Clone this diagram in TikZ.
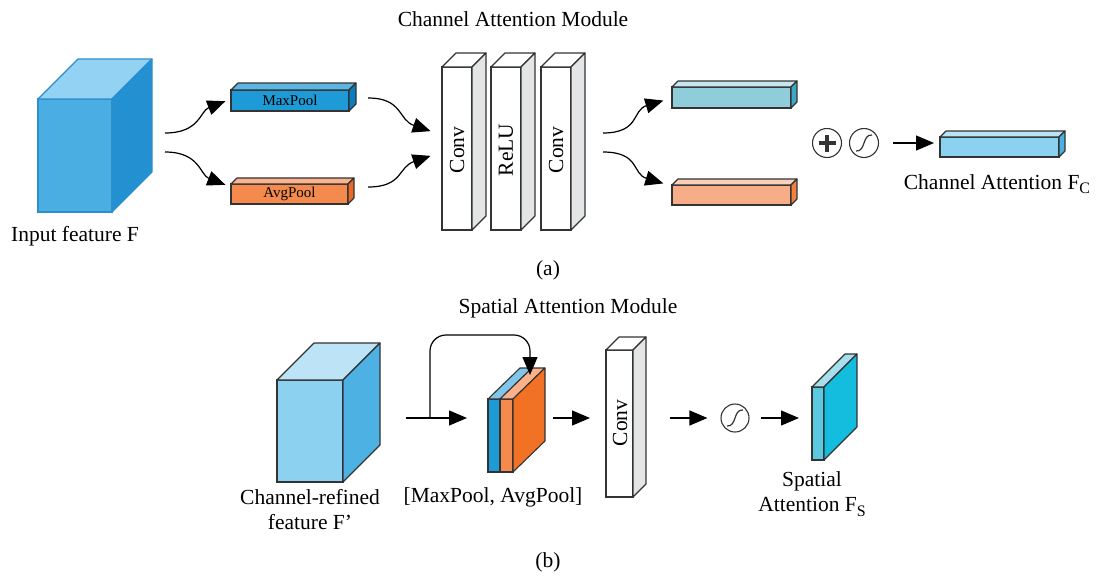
\documentclass[tikz,border=0pt]{standalone}
\usepackage{fontspec}
\setmainfont{Liberation Serif}
\usetikzlibrary{arrows.meta}

% colour palette
\definecolor{edgegray}{HTML}{333333}
\definecolor{cubeAfront}{HTML}{4BAEE3}
\definecolor{cubeAtop}{HTML}{93D2F2}
\definecolor{cubeAside}{HTML}{2391D1}
\definecolor{cubeAedge}{HTML}{2C8FCC}
\definecolor{maxfront}{HTML}{1E9AD6}
\definecolor{maxtop}{HTML}{5BB6E3}
\definecolor{maxside}{HTML}{0B7CC0}
\definecolor{avgfront}{HTML}{F58A4E}
\definecolor{avgtop}{HTML}{F9B38E}
\definecolor{avgside}{HTML}{E9692A}
\definecolor{convside}{HTML}{E4E5E7}
\definecolor{tealfront}{HTML}{8FCDDB}
\definecolor{tealtop}{HTML}{C6E7EF}
\definecolor{tealside}{HTML}{3FA7C6}
\definecolor{salmfront}{HTML}{F7AD88}
\definecolor{salmtop}{HTML}{FBD0B8}
\definecolor{salmside}{HTML}{F0813E}
\definecolor{fcfront}{HTML}{8BD1F0}
\definecolor{fctop}{HTML}{B9E3F6}
\definecolor{fcside}{HTML}{4BAFE1}
\definecolor{cubeBfront}{HTML}{8DD1F1}
\definecolor{cubeBtop}{HTML}{BDE4F6}
\definecolor{cubeBside}{HTML}{4EB1E4}
\definecolor{catbluetop}{HTML}{7FC6EA}
\definecolor{catorgtop}{HTML}{FBB28A}
\definecolor{catorgside}{HTML}{F17125}
\definecolor{fsfront}{HTML}{5CC9E1}
\definecolor{fstop}{HTML}{A7DFEC}
\definecolor{fsside}{HTML}{14BCDD}

% top and side faces of a block whose front face is node #1
\newcommand{\depthfaces}[5]{% #1 node, #2 depth, #3 top, #4 side, #5 edge colour
  \filldraw[draw=#5, line width=1.1pt, line join=round, fill=#3]
    (#1.north west) -- ++(#2,-#2) -- ([shift={(#2,-#2)}]#1.north east) -- (#1.north east) -- cycle;
  \filldraw[draw=#5, line width=1.1pt, line join=round, fill=#4]
    (#1.north east) -- ++(#2,-#2) -- ([shift={(#2,-#2)}]#1.south east) -- (#1.south east) -- cycle;
}
\newcommand{\lowidx}[1]{\raisebox{-0.45ex}{\fontsize{16}{16}\selectfont #1}}

\tikzset{
  face/.style={draw=edgegray, line width=1.1pt, inner sep=0pt, outer sep=0pt},
  lbl/.style={font=\fontsize{21.5}{25}\selectfont, inner sep=0pt},
  barlbl/.style={font=\fontsize{15}{17}\selectfont},
  flow/.style={line width=1.2pt, -{Triangle[length=18pt,width=15pt]}},
  opcirc/.style={draw=edgegray, circle, line width=1.1pt, minimum size=29pt, inner sep=0pt},
}

\begin{document}
\begin{tikzpicture}[x=1pt, y=-1pt]
\useasboundingbox (0,0) rectangle (1097,576);

%% ---------------- (a) channel attention ----------------
\node[lbl] (titlea) at (513,19) {Channel Attention Module};

% input feature cube
\node[face, draw=cubeAedge, fill=cubeAfront, minimum width=74pt, minimum height=113pt] (inA) at (75,155.5) {};
\depthfaces{inA}{40}{cubeAtop}{cubeAside}{cubeAedge}
\node[lbl] (inAlbl) at (75,236) {Input feature F};

% pooled descriptors
\node[face, fill=maxfront, minimum width=118pt, minimum height=21pt, barlbl] (maxp) at (290,100.5) {MaxPool};
\depthfaces{maxp}{7}{maxtop}{maxside}{edgegray}
\node[face, fill=avgfront, minimum width=117pt, minimum height=20pt, barlbl] (avgp) at (289.5,194) {AvgPool};
\depthfaces{avgp}{6}{avgtop}{avgside}{edgegray}

% shared MLP
\node[face, fill=white, minimum width=30pt, minimum height=163pt] (conv1) at (457,148.5) {};
\depthfaces{conv1}{14}{white}{convside}{edgegray}
\node[face, fill=white, minimum width=30pt, minimum height=163pt] (relu) at (506,148.5) {};
\depthfaces{relu}{14}{white}{convside}{edgegray}
\node[face, fill=white, minimum width=30pt, minimum height=163pt] (conv2) at (556,148.5) {};
\depthfaces{conv2}{14}{white}{convside}{edgegray}
\node[lbl, rotate=90] (conv1t) at (457,150) {Conv};
\node[lbl, rotate=90] (relut) at (506,150) {ReLU};
\node[lbl, rotate=90] (conv2t) at (556,150) {Conv};

% MLP outputs
\node[face, fill=tealfront, minimum width=119pt, minimum height=21pt] (outmax) at (731.5,97.5) {};
\depthfaces{outmax}{6}{tealtop}{tealside}{edgegray}
\node[face, fill=salmfront, minimum width=119pt, minimum height=20pt] (outavg) at (731.5,195) {};
\depthfaces{outavg}{6}{salmtop}{salmside}{edgegray}

% sum and sigmoid
\node[opcirc] (plus) at (827,143) {};
\draw[line width=3.4pt, edgegray] ([xshift=-8.5pt]plus.center) -- ([xshift=8.5pt]plus.center)
  ([yshift=-8.5pt]plus.center) -- ([yshift=8.5pt]plus.center);
\node[opcirc] (sigA) at (864,143) {};
\draw[line width=1.2pt, edgegray] ([shift={(-8,8)}]sigA.center) .. controls ([shift={(2,9)}]sigA.center) and ([shift={(-2,-9)}]sigA.center) .. ([shift={(8,-8)}]sigA.center);

% channel attention map
\node[face, fill=fcfront, minimum width=119pt, minimum height=20pt] (fc) at (999.5,147) {};
\depthfaces{fc}{6}{fctop}{fcside}{edgegray}
\node[lbl] (fclbl) at (997,184) {Channel Attention F\lowidx{C}};

% connectors
\coordinate (inAo1) at (165,133);
\coordinate (inAo2) at (165,152);
\draw[flow, shorten >=6pt] (inAo1) .. controls (200,133) and (200,111) .. (maxp.west |- 0,99);
\draw[flow, shorten >=6pt] (inAo2) .. controls (200,152) and (200,175) .. (avgp.west |- 0,187);
\coordinate (maxpo) at (368,98);
\coordinate (avgpo) at (368,187);
\coordinate (conv1i1) at (conv1.west |- 0,135);
\coordinate (conv1i2) at (conv1.west |- 0,152);
\draw[flow, shorten >=12pt] (maxpo) .. controls (403,98) and (398,120) .. (conv1i1);
\draw[flow, shorten >=12pt] (avgpo) .. controls (403,187) and (398,167) .. (conv1i2);
\coordinate (conv2o1) at (603,133);
\coordinate (conv2o2) at (603,152);
\draw[flow, shorten >=9pt] (conv2o1) .. controls (640,133) and (632,110) .. (outmax.west |- 0,98);
\draw[flow, shorten >=9pt] (conv2o2) .. controls (640,152) and (632,174) .. (outavg.west |- 0,186);
\coordinate (sigAo) at (893,143);
\coordinate (fcin) at (fc.west |- sigAo);
\draw[flow, shorten >=6pt] (sigAo) -- (fcin);

\node[lbl] (capa) at (548,270) {(a)};

%% ---------------- (b) spatial attention ----------------
\node[lbl] (titleb) at (568,308) {Spatial Attention Module};

% refined feature cube
\node[face, fill=cubeBfront, minimum width=66pt, minimum height=102pt] (inB) at (310,431) {};
\depthfaces{inB}{37}{cubeBtop}{cubeBside}{edgegray}
\node[lbl, align=center] (inBlbl) at (310,510) {Channel-refined\\feature F’};

% concatenated pooled maps
\node[face, fill=maxfront, minimum width=12pt, minimum height=73pt] (catmax) at (494,435.5) {};
\filldraw[draw=edgegray, line width=1.1pt, line join=round, fill=catbluetop]
  (catmax.north west) -- ++(32,-31) -- ([shift={(32,-31)}]catmax.north east) -- (catmax.north east) -- cycle;
\node[face, fill=avgfront, minimum width=13pt, minimum height=73pt] (catavg) at (506.5,435.5) {};
\filldraw[draw=edgegray, line width=1.1pt, line join=round, fill=catorgtop]
  (catavg.north west) -- ++(32,-31) -- ([shift={(32,-31)}]catavg.north east) -- (catavg.north east) -- cycle;
\filldraw[draw=edgegray, line width=1.1pt, line join=round, fill=catorgside]
  (catavg.north east) -- ++(32,-31) -- ([shift={(32,-31)}]catavg.south east) -- (catavg.south east) -- cycle;
\node[lbl] (catlbl) at (493,497) {[MaxPool, AvgPool]};

% convolution
\node[face, fill=white, minimum width=27pt, minimum height=147pt] (convb) at (619.5,423.5) {};
\depthfaces{convb}{13}{white}{convside}{edgegray}
\node[lbl, rotate=90] (convbt) at (620,423) {Conv};

% sigmoid
\node[opcirc, minimum size=28pt] (sigB) at (735,418) {};
\draw[line width=1.2pt, edgegray] ([shift={(-8,8)}]sigB.center) .. controls ([shift={(2,9)}]sigB.center) and ([shift={(-2,-9)}]sigB.center) .. ([shift={(8,-8)}]sigB.center);

% spatial attention map
\node[face, fill=fsfront, minimum width=12pt, minimum height=73pt] (fs) at (818,423.5) {};
\depthfaces{fs}{33}{fstop}{fsside}{edgegray}
\node[lbl, align=center] (fslbl) at (812,494) {Spatial\\Attention F\lowidx{S}};

% connectors
\coordinate (inBo) at (406,418);
\coordinate (catin) at (catmax.west |- inBo);
\coordinate (loopdown) at (530,375);
\draw[flow, shorten >=21pt] (inBo) -- (catin);
\draw[flow, rounded corners=16pt] (430,418) |- (530,335) -- (loopdown);
\coordinate (cato) at (553,418);
\coordinate (convbi) at (convb.west |- cato);
\draw[flow, shorten >=16pt] (cato) -- (convbi);
\coordinate (convbo) at (670,418);
\draw[flow, shorten >=13pt] (convbo) -- (sigB.west);
\coordinate (sigBo) at (761,418);
\coordinate (fsin) at (fs.west |- sigBo);
\draw[flow, shorten >=13pt] (sigBo) -- (fsin);

\node[lbl] (capb) at (548,562) {(b)};
\end{tikzpicture}
\end{document}
